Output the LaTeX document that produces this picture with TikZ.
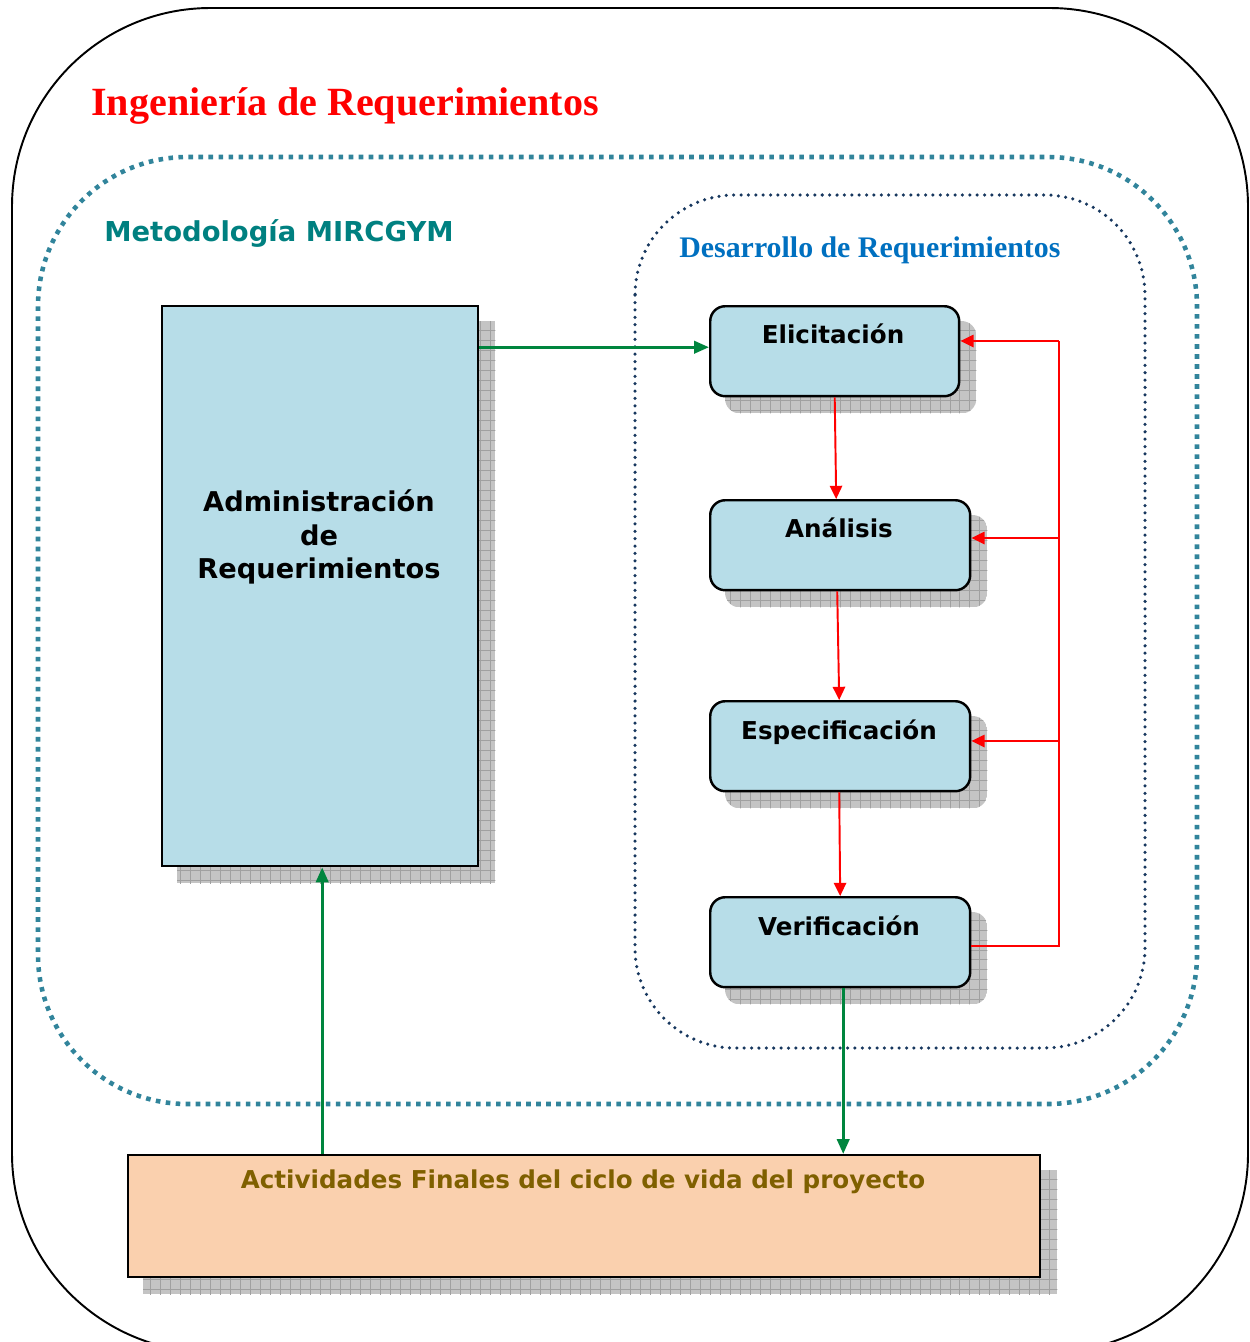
\documentclass[tikz,border=0pt]{standalone}
\usepackage{fontspec}
\setmainfont{Liberation Serif}
\newfontfamily\vfont{DejaVu Sans}
\usetikzlibrary{arrows.meta,backgrounds}
\definecolor{tealdash}{HTML}{31849B}
\definecolor{navydot}{HTML}{17375E}
\definecolor{metcol}{HTML}{008080}
\definecolor{descol}{HTML}{0070C0}
\definecolor{boxblue}{HTML}{B7DDE8}
\definecolor{peach}{HTML}{FAD0AE}
\definecolor{browntxt}{HTML}{7F6000}
\definecolor{arrgreen}{HTML}{00853E}
\definecolor{shfill}{HTML}{C4C4C4}
\definecolor{shgrid}{HTML}{A0A0A0}
\tikzset{
  box/.style={draw=black, line width=1.4pt, fill=boxblue, inner sep=0pt},
  rbox/.style={box, rounded corners=8.5pt, minimum height=1.8cm},
  lbl/.style={font=\vfont\bfseries\fontsize{14}{17}\selectfont, anchor=base, inner sep=0pt},
  biglbl/.style={font=\vfont\bfseries\fontsize{15.5}{19}\selectfont, anchor=base, inner sep=0pt},
  greenarrow/.style={draw=arrgreen, line width=1.7pt, -{Triangle[length=8.5pt,width=7pt]}},
  redline/.style={draw=red, line width=1.1pt},
  redarrow/.style={redline, -{Triangle[length=7.5pt,width=7pt]}},
}
\newcommand\shadowof[2]{%
  \begin{scope}
  \clip[rounded corners=#2] ([shift={(16,16)}]#1.north west) rectangle ([shift={(16,16)}]#1.south east);
  \fill[shfill] ([shift={(16,16)}]#1.north west) rectangle ([shift={(16,16)}]#1.south east);
  \draw[shgrid, line width=0.35pt, step=0.2cm] ([shift={(0,0)}]#1.north west) grid ([shift={(20,20)}]#1.south east);
  \end{scope}}
\begin{document}
\begin{tikzpicture}[x=0.02cm,y=-0.02cm]
\useasboundingbox (0,0) rectangle (1249,1342);
\clip (0,0) rectangle (1249,1342);
% outer frame
\draw[line width=1.1pt, rounded corners=113pt] (12,8) rectangle (1248,1352);
% containers
\draw[tealdash, line width=2.6pt, dash pattern=on 2.6pt off 3.1pt, rounded corners=85pt] (38,157) rectangle (1197,1104);
\draw[navydot, line width=2pt, line cap=round, dash pattern=on 0pt off 4.2pt, rounded corners=57pt] (635,195) rectangle (1145,1048);
% titles
\node[anchor=base west, inner sep=0pt, text=red, font=\bfseries\fontsize{22.8}{27}\selectfont] (title) at (91,115) {Ingeniería de Requerimientos};
\node[anchor=base west, inner sep=0pt, text=metcol, font=\vfont\bfseries\fontsize{15.6}{19}\selectfont] (met) at (104,241) {Metodología MIRCGYM};
\node[anchor=base west, inner sep=0pt, text=descol, font=\bfseries\fontsize{17}{20}\selectfont] (des) at (679,257) {Desarrollo de Requerimientos};
% boxes
\node[box, minimum width=6.32cm, minimum height=11.2cm, anchor=north west] (admin) at (161,305) {};
\node[rbox, minimum width=4.98cm, anchor=north west] (elic) at (709,305) {};
\node[rbox, minimum width=5.2cm, anchor=north west] (anal) at (709,499) {};
\node[rbox, minimum width=5.2cm, anchor=north west] (spec) at (709,700) {};
\node[rbox, minimum width=5.2cm, anchor=north west] (verif) at (709,896) {};
\node[box, fill=peach, minimum width=18.24cm, minimum height=2.44cm, anchor=north west] (act) at (127,1154) {};
\begin{scope}[on background layer]
\shadowof{admin}{0pt}
\shadowof{elic}{8.5pt}
\shadowof{anal}{8.5pt}
\shadowof{spec}{8.5pt}
\shadowof{verif}{8.5pt}
\shadowof{act}{0pt}
\end{scope}
% labels
\node[biglbl] (tadmin1) at (319,511) {Administración};
\node[biglbl] (tadmin2) at (319,545) {de};
\node[biglbl] (tadmin3) at (319,578) {Requerimientos};
\node[lbl] (telic) at (833,343) {Elicitación};
\node[lbl] (tanal) at (839,537) {Análisis};
\node[lbl] (tspec) at (839,739) {Especificación};
\node[lbl] (tverif) at (839,935) {Verificación};
\node[lbl, text=browntxt] (tact) at (583,1188) {Actividades Finales del ciclo de vida del proyecto};
% connectors
\draw[greenarrow] ([yshift=0.08cm]elic.west -| admin.east) -- ([yshift=0.08cm]elic.west);
\draw[redarrow] (elic.south) -- ([xshift=-0.08cm]anal.north);
\draw[redarrow] ([xshift=-0.06cm]anal.south) -- ([xshift=-0.02cm]spec.north);
\draw[redarrow] ([xshift=-0.02cm]spec.south) -- (verif.north);
\coordinate (f1) at (1059,341);
\coordinate (f2) at (1059,538);
\coordinate (f3) at (1059,741);
\coordinate (f4) at (1059,946);
\draw[redline] (verif.east |- f4) -- (f4) -- (f1);
\draw[redarrow] (f1) -- (elic.east |- f1);
\draw[redarrow] (f2) -- (anal.east |- f2);
\draw[redarrow] (f3) -- (spec.east |- f3);
\draw[greenarrow] ([xshift=0.06cm]verif.south) -- ([xshift=0.06cm]verif.south |- act.north);
\draw[greenarrow] ([xshift=0.04cm]admin.south |- act.north) -- ([xshift=0.04cm]admin.south);
\end{tikzpicture}
\end{document}
